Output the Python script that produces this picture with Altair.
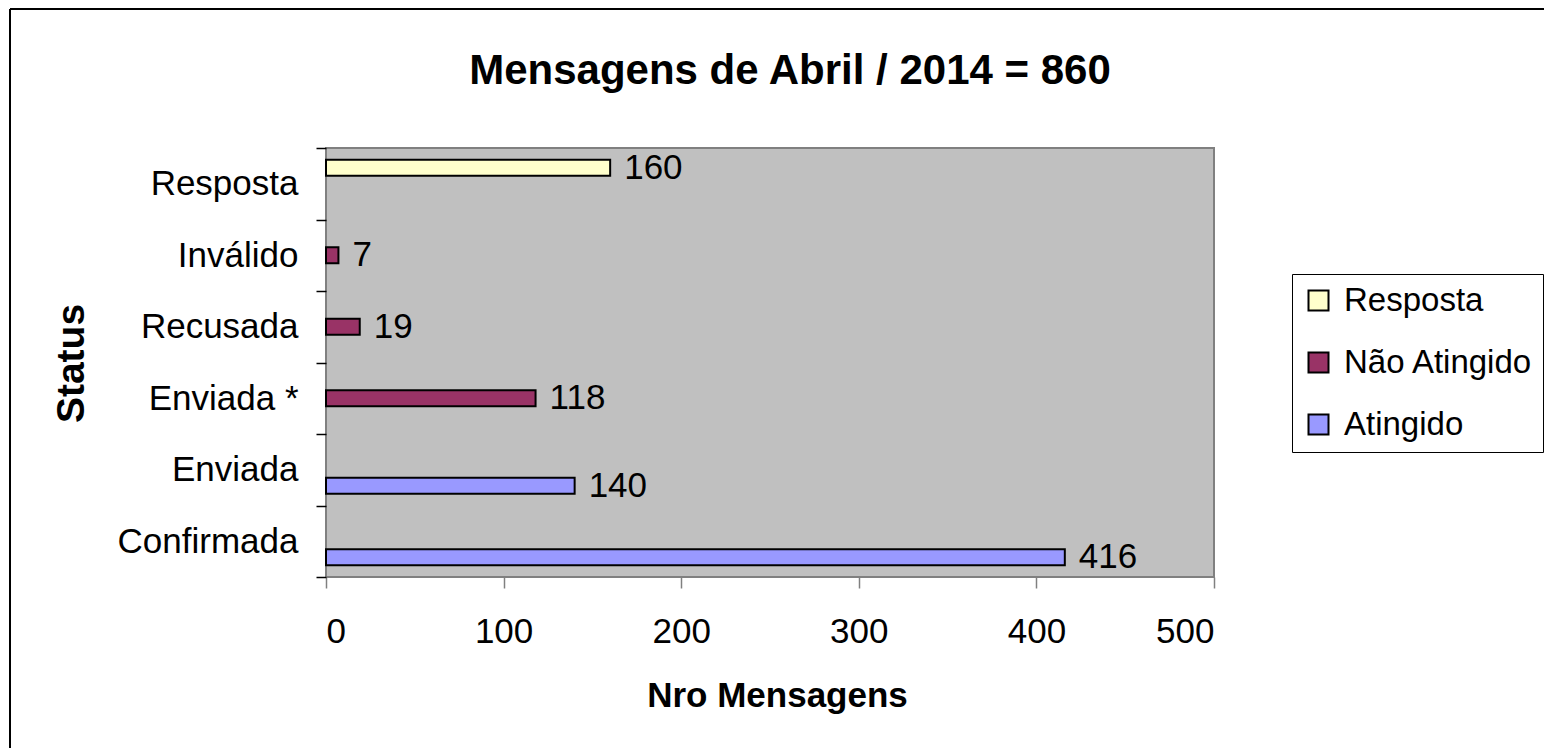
import altair as alt
import pandas as pd

categories = ["Resposta", "Inválido", "Recusada", "Enviada *", "Enviada", "Confirmada"]
series = ["Resposta", "Não Atingido", "Não Atingido", "Não Atingido", "Atingido", "Atingido"]
values = [160, 7, 19, 118, 140, 416]
series_order = ["Resposta", "Não Atingido", "Atingido"]
series_colors = ["#FFFFCC", "#993366", "#9999FF"]
x_ticks = [0, 100, 200, 300, 400, 500]
chart_title = "Mensagens de Abril / 2014 = 860"

df = pd.DataFrame({"Status": categories, "Serie": series, "Valor": values})

FONT = "Liberation Sans"
W, H = 888, 429

y_scale = alt.Scale(domain=categories, paddingInner=0, paddingOuter=0)
yoff_scale = alt.Scale(domain=series_order, paddingInner=0, paddingOuter=0.734)
x_scale = alt.Scale(domain=[0, 500], nice=False, zero=True)

bars = alt.Chart(df).mark_bar(stroke="black", strokeWidth=2, opacity=1).encode(
    x=alt.X("Valor:Q", scale=x_scale,
            axis=alt.Axis(values=x_ticks, title="Nro Mensagens", grid=False, domain=False,
                          tickSize=11, tickColor="#808080", tickWidth=1.5,
                          labelFontSize=35, labelFont=FONT, labelColor="black",
                          labelPadding=26, labelBaseline="top", labelLimit=0,
                          titleFontSize=35, titleFont=FONT, titleFontWeight="bold",
                          titleColor="black", titleX=451, titleY=118,
                          titleBaseline="middle", titleAlign="center")),
    y=alt.Y("Status:N", sort=categories, scale=y_scale,
            axis=alt.Axis(title="Status", tickBand="extent", grid=False, domain=False,
                          tickSize=10, tickColor="black", tickWidth=1.5,
                          labelFontSize=35, labelFont=FONT, labelColor="black",
                          labelPadding=18, labelBaseline="middle", labelLimit=0,
                          titleFontSize=39, titleFont=FONT, titleFontWeight="bold",
                          titleColor="black", titleAngle=270, titleX=-255, titleY=215,
                          titleBaseline="middle", titleAlign="center")),
    yOffset=alt.YOffset("Serie:N", sort=series_order, scale=yoff_scale),
    fill=alt.Fill("Serie:N", scale=alt.Scale(domain=series_order, range=series_colors),
                  legend=alt.Legend(title=None, orient="none", legendX=966, legendY=126,
                                    strokeColor="black", fillColor="white", padding=10,
                                    labelFontSize=33, labelFont=FONT, labelColor="black",
                                    labelOffset=9, rowPadding=28, labelLimit=0,
                                    symbolType="square", symbolSize=400,
                                    symbolStrokeColor="black", symbolStrokeWidth=2,
                                    symbolOpacity=1)),
)

labels = alt.Chart(df).mark_text(align="left", baseline="middle", dx=14, fontSize=35,
                                  font=FONT, color="black").encode(
    x=alt.X("Valor:Q", scale=x_scale),
    y=alt.Y("Status:N", sort=categories, scale=y_scale),
    yOffset=alt.YOffset("Serie:N", sort=series_order, scale=yoff_scale),
    text=alt.Text("Valor:Q"),
)

frame_df = pd.DataFrame({"k": [0]})
top_border = alt.Chart(frame_df).mark_rule(color="black", strokeWidth=2).encode(
    x=alt.value(-316), x2=alt.value(1300), y=alt.value(-139))
left_border = alt.Chart(frame_df).mark_rule(color="black", strokeWidth=2).encode(
    x=alt.value(-316), y=alt.value(-139), y2=alt.value(700))

title_df = pd.DataFrame({"t": [chart_title]})
title_mark = alt.Chart(title_df).mark_text(
    font=FONT, fontSize=42, fontWeight="bold", color="black",
    align="center", baseline="alphabetic").encode(
    text="t:N", x=alt.value(464), y=alt.value(-64))

chart = alt.layer(bars, labels, top_border, left_border, title_mark).properties(
    width=W, height=H,
    padding={"left": 318, "top": 140, "right": 330, "bottom": 171},
    autosize=alt.AutoSizeParams(type="none"),
).configure(background="white").configure_view(fill="#C0C0C0", stroke="#808080", strokeWidth=2)

chart.save("out.html", embed_options={"renderer": "svg", "actions": False})
